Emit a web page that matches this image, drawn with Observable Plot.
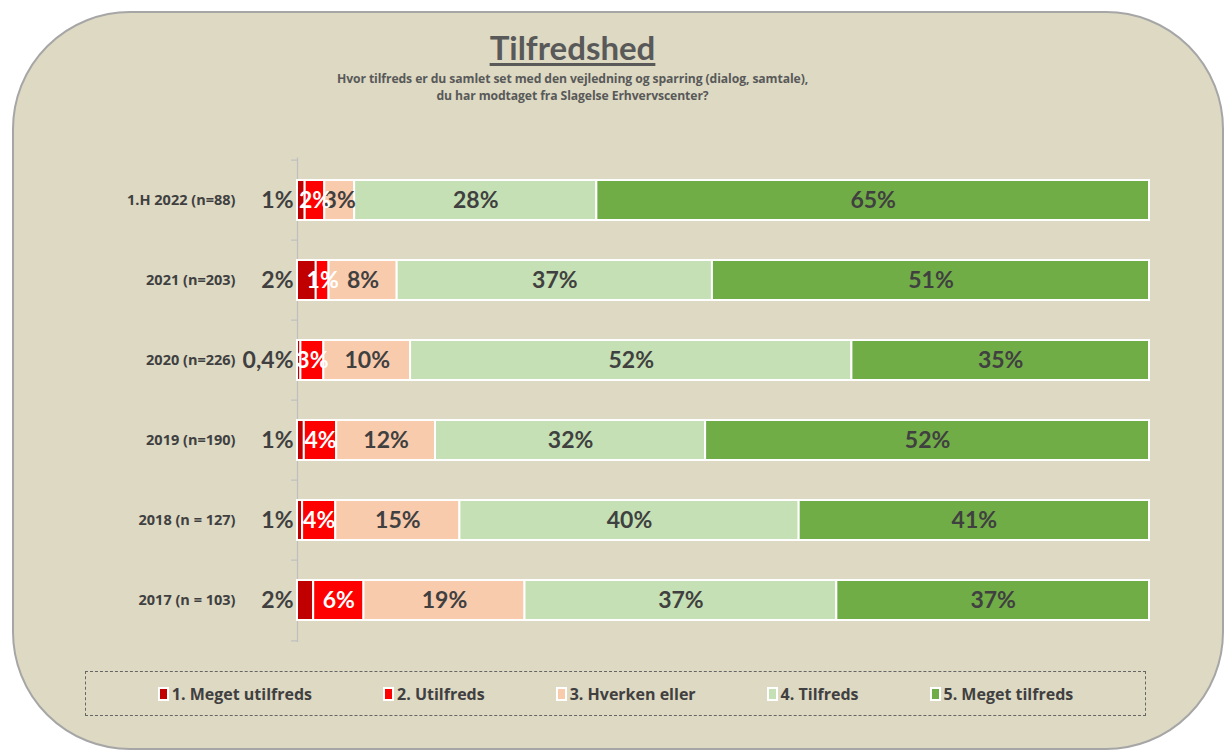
<!DOCTYPE html>
<html>
<head>
<meta charset="utf-8">
<script src="https://cdn.jsdelivr.net/npm/d3@7"></script>
<script src="https://cdn.jsdelivr.net/npm/@observablehq/plot@0.6"></script>
<style>
  html, body { margin: 0; padding: 0; background: #ffffff; width: 1225px; height: 754px; overflow: hidden; }
  body { position: relative; font-family: Lato, "Open Sans", sans-serif; }
  #panel { position: absolute; left: 12px; top: 11px; width: 1212px; height: 739px; background: #DDD9C3;
           border: 2px solid #A6A6A6; border-radius: 118px; box-sizing: border-box; }
  #title { position: absolute; left: 0; width: 1145px; top: 31px; text-align: center; font-size: 33px; line-height: 33px;
           font-weight: bold; color: #595959; }
  #title span { text-decoration: underline; text-decoration-thickness: 3px; text-underline-offset: 3px; }
  #subtitle { position: absolute; left: 0; width: 1145px; top: 70px; text-align: center; font-size: 12.2px; line-height: 17px;
              font-weight: bold; color: #595959; font-family: "Open Sans", Lato, sans-serif; letter-spacing: -0.1px; }
  #chart { position: absolute; left: 0; top: 140px; }
  #legend { position: absolute; left: 85px; top: 671px; width: 1061px; height: 45px; box-sizing: border-box;
            border: 1px dashed #666; display: flex; align-items: center; justify-content: center; gap: 71px; }
  .item { display: flex; align-items: center; font-size: 16px; font-weight: bold; color: #404040; font-family: "Open Sans", Lato, sans-serif; }
  .sw { width: 7px; height: 10px; border: 2px solid #fff; margin-right: 3px; }
</style>
</head>
<body>
<div id="panel"></div>
<div id="title"><span>Tilfredshed</span></div>
<div id="subtitle">Hvor tilfreds er du samlet set med den vejledning og sparring (dialog, samtale),<br>du har modtaget fra Slagelse Erhvervscenter?</div>
<div id="chart"></div>
<div id="legend"></div>
<script>
// Categories (rows, top to bottom)
const years = ["1.H 2022 (n=88)", "2021 (n=203)", "2020 (n=226)", "2019 (n=190)", "2018 (n = 127)", "2017 (n = 103)"];
// Series names
const seriesNames = ["1. Meget utilfreds", "2. Utilfreds", "3. Hverken eller", "4. Tilfreds", "5. Meget tilfreds"];
const seriesColors = ["#C00000", "#FF0000", "#F8CBAD", "#C5E0B4", "#70AD47"];
// Series values (percent), one value per row
const megetUtilfreds = [0.9, 2.2, 0.4, 0.8, 0.6, 1.9];
const utilfreds      = [2.3, 1.5, 2.7, 3.8, 3.9, 5.9];
const hverkenEller   = [3.5, 8.0, 10.2, 11.6, 14.6, 18.9];
const tilfreds       = [28.4, 37.0, 51.9, 31.7, 39.9, 36.6];
const megetTilfreds  = [64.8, 51.3, 35.0, 52.1, 41.2, 36.7];
// Data labels as printed
const lblMegetUtilfreds = ["1%", "2%", "0,4%", "1%", "1%", "2%"];
const lblUtilfreds      = ["2%", "1%", "3%", "4%", "4%", "6%"];
const lblHverkenEller   = ["3%", "8%", "10%", "12%", "15%", "19%"];
const lblTilfreds       = ["28%", "37%", "52%", "32%", "40%", "37%"];
const lblMegetTilfreds  = ["65%", "51%", "35%", "52%", "41%", "37%"];

const seriesValues = [megetUtilfreds, utilfreds, hverkenEller, tilfreds, megetTilfreds];
const seriesLabels = [lblMegetUtilfreds, lblUtilfreds, lblHverkenEller, lblTilfreds, lblMegetTilfreds];

const data = [];
seriesNames.forEach((cat, si) => {
  years.forEach((year, yi) => {
    data.push({year, cat, si, value: seriesValues[si][yi], label: seriesLabels[si][yi]});
  });
});

const W = 1225, H = 520, mTop = 17.6, mBottom = 18;
const step = (H - mTop - mBottom) / years.length;

const stackOpts = {x: "value", y: "year", z: "cat", offset: "normalize", order: seriesNames};
const textStyle = {fontSize: 23, fontWeight: "bold"};

const chart = Plot.plot({
  width: W,
  height: H,
  marginLeft: 297,
  marginRight: 76,
  marginTop: mTop,
  marginBottom: mBottom,
  style: {fontFamily: "Lato, 'Open Sans', sans-serif", background: "transparent", overflow: "visible"},
  x: {domain: [0, 1], axis: null},
  y: {domain: years, paddingInner: 0.5, paddingOuter: 0.25, label: null},
  color: {domain: seriesNames, range: seriesColors},
  marks: [
    Plot.ruleX([0], {stroke: "#BFBFBF", strokeWidth: 1.2}),
    Plot.ruleY(years, {y: d => d, x1: 0, x2: -0.007, dy: -step / 2, stroke: "#BFBFBF", strokeWidth: 1.2}),
    Plot.ruleY(years.slice(-1), {y: d => d, x1: 0, x2: -0.007, dy: step / 2, stroke: "#BFBFBF", strokeWidth: 1.2}),
    Plot.barX(data, Plot.stackX({...stackOpts, fill: "cat", stroke: "white", strokeWidth: 2})),
    Plot.text(data, Plot.stackX({...stackOpts, text: d => (d.si >= 2 ? d.label : ""), fill: "#404040", ...textStyle})),
    Plot.text(data, Plot.stackX({...stackOpts, text: d => (d.si === 1 ? d.label : ""), fill: "white", ...textStyle})),
    Plot.text(data.filter(d => d.si === 0), {y: "year", text: "label", frameAnchor: "left", textAnchor: "end", dx: -4, fill: "#404040", ...textStyle}),
    Plot.axisY({tickSize: 0, tickPadding: 62, fontSize: 14.5, fontWeight: "bold", fill: "#404040", fontFamily: "'Open Sans', Lato, sans-serif"})
  ]
});
document.getElementById("chart").appendChild(chart);

// Legend
const legend = document.getElementById("legend");
seriesNames.forEach((name, i) => {
  const item = document.createElement("div");
  item.className = "item";
  const sw = document.createElement("div");
  sw.className = "sw";
  sw.style.background = seriesColors[i];
  const t = document.createElement("span");
  t.textContent = name;
  item.appendChild(sw);
  item.appendChild(t);
  legend.appendChild(item);
});
</script>
</body>
</html>
